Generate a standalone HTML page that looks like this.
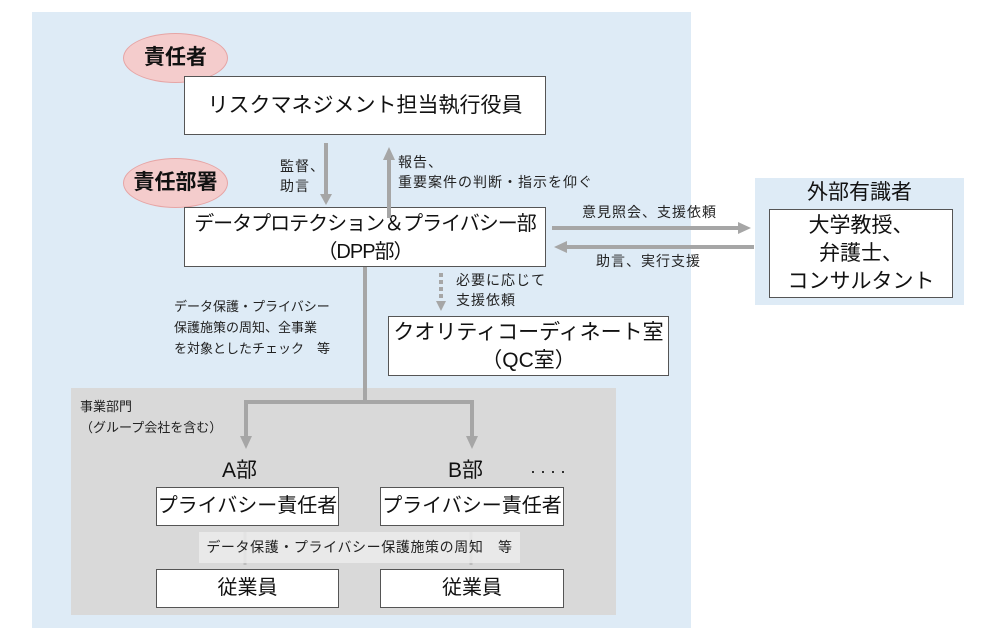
<!DOCTYPE html>
<html><head><meta charset="utf-8"><style>
body{margin:0;width:999px;height:639px;background:#fff;position:relative;overflow:hidden;font-family:"Liberation Sans","Noto Sans CJK JP",sans-serif;color:#111}
div{position:absolute;box-sizing:border-box;white-space:nowrap}
.b{background:#fff;border:1px solid #555;text-align:center}
.s{font-size:13px;line-height:20px;color:#222}
.m{font-size:14px;letter-spacing:1px}
</style></head><body>
<div style="left:32px;top:12px;width:659px;height:616px;background:#deebf6"></div>
<div style="left:71px;top:388px;width:545px;height:227px;background:#d9d9d9"></div>
<div style="left:755px;top:178px;width:209px;height:127px;background:#deebf6"></div>

<div style="left:123px;top:33px;width:105px;height:50px;border-radius:50%;background:#f4cccc;border:1px solid #e6a5a5;font-size:21px;font-weight:bold;line-height:48px;text-align:center">責任者</div>
<div class="b" style="left:184px;top:76px;width:362px;height:59px;font-size:21px;line-height:57px">リスクマネジメント担当執行役員</div>

<div style="left:123px;top:158px;width:105px;height:50px;border-radius:50%;background:#f4cccc;border:1px solid #e6a5a5;font-size:21px;font-weight:bold;line-height:48px;text-align:center">責任部署</div>
<div class="b" style="left:184px;top:207px;width:362px;height:60px;font-size:20px;line-height:28px;padding-top:2px;letter-spacing:-1px">データプロテクション＆プライバシー部<br>（DPP部）</div>

<div class="s m" style="left:280px;top:156px">監督、<br>助言</div>
<div class="s m" style="left:398px;top:152px">報告、<br>重要案件の判断・指示を仰ぐ</div>
<div class="s m" style="left:582px;top:202px">意見照会、支援依頼</div>
<div class="s m" style="left:596px;top:251px">助言、実行支援</div>
<div class="s m" style="left:456px;top:270px">必要に応じて<br>支援依頼</div>
<div class="s" style="left:174px;top:296px;line-height:21px">データ保護・プライバシー<br>保護施策の周知、全事業<br>を対象としたチェック　等</div>

<div style="left:755px;top:179px;width:209px;text-align:center;font-size:21px;line-height:28px">外部有識者</div>
<div class="b" style="left:769px;top:209px;width:184px;height:89px;font-size:21px;line-height:28px;padding-top:2px">大学教授、<br>弁護士、<br>コンサルタント</div>

<div class="b" style="left:388px;top:316px;width:281px;height:60px;font-size:21px;line-height:28px;padding-top:2px">クオリティコーディネート室<br>（QC室）</div>

<div class="s" style="left:80px;top:396px;line-height:21px">事業部門<br>（グループ会社を含む）</div>
<div style="left:222px;top:458px;font-size:21px;line-height:26px">A部</div>
<div style="left:448px;top:458px;font-size:21px;line-height:26px">B部</div>
<div style="left:530px;top:458px;font-size:18px;line-height:26px;letter-spacing:4px">····</div>

<svg width="999" height="639" style="position:absolute;left:0;top:0">
<g stroke="#a6a6a6" stroke-width="4" fill="#a6a6a6">
<line x1="326" y1="143" x2="326" y2="195"/><polygon points="320,194 332,194 326,205" stroke="none"/>
<line x1="389" y1="218" x2="389" y2="158"/><polygon points="383,160 395,160 389,147" stroke="none"/>
<line x1="552" y1="228" x2="740" y2="228"/><polygon points="738,222 738,234 751,228" stroke="none"/>
<line x1="754" y1="247" x2="565" y2="247"/><polygon points="567,241 567,253 554,247" stroke="none"/>
<line x1="441" y1="273" x2="441" y2="302" stroke-dasharray="4,3"/><polygon points="436,301 446,301 441,311" stroke="none"/>
<line x1="365" y1="267" x2="365" y2="402"/>
<polyline points="246,438 246,402 472,402 472,438" fill="none"/>
<polygon points="240,436 252,436 246,449" stroke="none"/><polygon points="466,436 478,436 472,449" stroke="none"/>
</g>
<g stroke="#bdbdbd" stroke-width="3" fill="#bdbdbd">
<line x1="245" y1="532" x2="245" y2="565"/><line x1="471" y1="532" x2="471" y2="565"/>
</g>
</svg>
<div style="left:199px;top:532px;width:321px;height:31px;background:#ececec;opacity:.8"></div>
<div class="s" style="left:199px;top:537px;width:321px;text-align:center;font-size:14px;letter-spacing:0.6px">データ保護・プライバシー保護施策の周知　等</div>

<div class="b" style="left:156px;top:487px;width:183px;height:39px;font-size:20px;line-height:37px">プライバシー責任者</div>
<div class="b" style="left:380px;top:487px;width:184px;height:39px;font-size:20px;line-height:37px">プライバシー責任者</div>
<div class="b" style="left:156px;top:569px;width:183px;height:39px;font-size:20px;line-height:37px">従業員</div>
<div class="b" style="left:380px;top:569px;width:184px;height:39px;font-size:20px;line-height:37px">従業員</div>
</body></html>
